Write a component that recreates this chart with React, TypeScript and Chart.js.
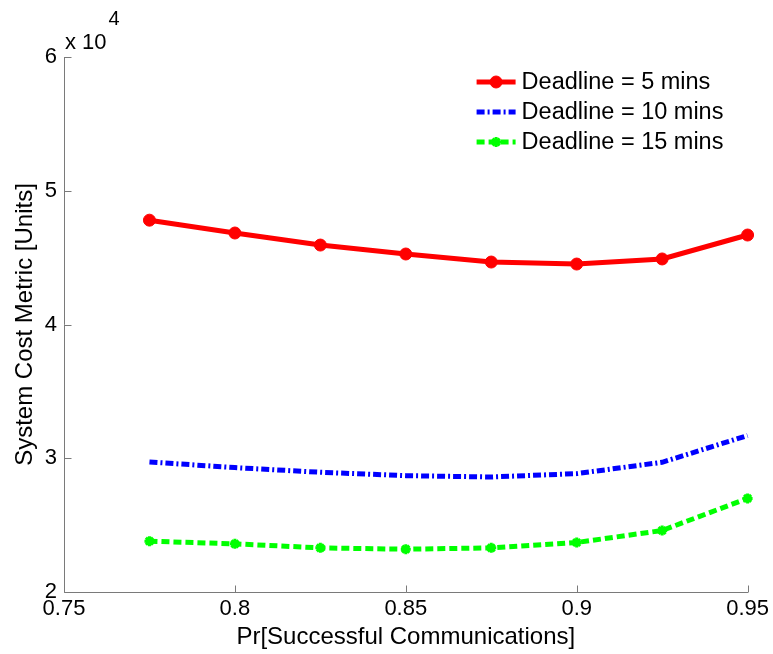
import React, { useEffect, useRef } from 'react';
import { Chart, registerables } from 'chart.js';
import { drawPoint } from 'chart.js/helpers';

Chart.register(...registerables);

const xValues = [0.775, 0.8, 0.825, 0.85, 0.875, 0.9, 0.925, 0.95];
const deadline5 = [47800, 46840, 45940, 45270, 44670, 44520, 44900, 46690];
const deadline10 = [29720, 29300, 28950, 28700, 28600, 28850, 29700, 31700];
const deadline15 = [23800, 23600, 23300, 23200, 23300, 23700, 24600, 27000];
const seriesLabels = ['Deadline = 5 mins', 'Deadline = 10 mins', 'Deadline = 15 mins'];
const xRange = [0.75, 0.95];
const xStep = 0.05;
const yRange = [20000, 60000];
const yStep = 10000;
const yExponentBase = 'x 10';
const yExponent = '4';
const xTitle = 'Pr[Successful Communications]';
const yTitle = 'System Cost Metric [Units]';

const FONT = '"Liberation Sans", Arial, Helvetica, sans-serif';

const toPoints = (ys: number[]) => xValues.map((x, i) => ({ x, y: ys[i] }));

const matlabAxes = {
  id: 'matlabAxes',
  afterDraw(chart: any) {
    const { ctx, chartArea } = chart;
    const xs = chart.scales.x;
    const ys = chart.scales.y;
    const tick = 7;
    ctx.save();
    ctx.strokeStyle = '#7a7a7a';
    ctx.lineWidth = 1;
    ctx.beginPath();
    const L = Math.round(chartArea.left) + 0.5;
    const B = Math.round(chartArea.bottom) + 0.5;
    ctx.moveTo(L, Math.round(chartArea.top));
    ctx.lineTo(L, B);
    ctx.lineTo(Math.round(chartArea.right), B);
    ys.ticks.forEach((t: any) => {
      const py = Math.round(ys.getPixelForValue(t.value)) + 0.5;
      ctx.moveTo(L, py);
      ctx.lineTo(L + tick, py);
    });
    xs.ticks.forEach((t: any) => {
      const px = Math.round(xs.getPixelForValue(t.value)) + 0.5;
      ctx.moveTo(px, B);
      ctx.lineTo(px, B - tick);
    });
    ctx.stroke();

    // exponent label
    ctx.fillStyle = '#000';
    ctx.font = `22px ${FONT}`;
    ctx.textBaseline = 'middle';
    ctx.textAlign = 'left';
    ctx.fillText(yExponentBase, chartArea.left + 1, chartArea.top - 14);
    const w = ctx.measureText(yExponentBase).width;
    ctx.font = `20px ${FONT}`;
    ctx.fillText(yExponent, chartArea.left + 3 + w, chartArea.top - 38);
    ctx.restore();
  },
};

const inlineLegend = {
  id: 'inlineLegend',
  afterDraw(chart: any) {
    const { ctx, chartArea } = chart;
    const lineLen = 39;
    const x0 = chartArea.right - 271;
    const y0 = chartArea.top + 25;
    const rowH = 30;
    ctx.save();
    chart.data.datasets.forEach((ds: any, i: number) => {
      const y = y0 + i * rowH;
      ctx.strokeStyle = ds.borderColor;
      ctx.lineWidth = ds.borderWidth;
      ctx.setLineDash(ds.borderDash || []);
      ctx.beginPath();
      ctx.moveTo(x0, y);
      ctx.lineTo(x0 + lineLen, y);
      ctx.stroke();
      ctx.setLineDash([]);
      if (ds.pointRadius > 0) {
        ctx.fillStyle = ds.pointBackgroundColor;
        ctx.strokeStyle = ds.pointBorderColor;
        ctx.lineWidth = ds.pointBorderWidth;
        drawPoint(ctx, { pointStyle: ds.pointStyle, radius: ds.pointRadius, borderWidth: ds.pointBorderWidth, rotation: 0 } as any, x0 + lineLen / 2, y);
      }
      ctx.fillStyle = '#000';
      ctx.font = `23.5px ${FONT}`;
      ctx.textBaseline = 'middle';
      ctx.textAlign = 'left';
      ctx.fillText(ds.label, x0 + lineLen + 6, y + 1);
    });
    ctx.restore();
  },
};

export default function App() {
  const ref = useRef<HTMLCanvasElement | null>(null);
  useEffect(() => {
    if (!ref.current) return;
    Chart.defaults.font.family = FONT;
    const chart = new Chart(ref.current, {
      type: 'line',
      data: {
        datasets: [
          {
            label: seriesLabels[0],
            data: toPoints(deadline5),
            borderColor: '#ff0000',
            backgroundColor: '#ff0000',
            borderWidth: 5,
            pointStyle: 'circle',
            pointRadius: 6,
            pointBackgroundColor: '#ff0000',
            pointBorderColor: '#ff0000',
            pointBorderWidth: 1,
            tension: 0,
            clip: false,
          } as any,
          {
            label: seriesLabels[1],
            data: toPoints(deadline10),
            borderColor: '#0000ff',
            backgroundColor: '#0000ff',
            borderWidth: 5,
            borderDash: [8, 3, 2, 3],
            pointRadius: 0,
            tension: 0,
            clip: false,
          } as any,
          {
            label: seriesLabels[2],
            data: toPoints(deadline15),
            borderColor: '#00ff00',
            backgroundColor: '#00ff00',
            borderWidth: 5,
            borderDash: [8, 4],
            pointStyle: 'star',
            pointRadius: 5,
            pointBackgroundColor: '#00ff00',
            pointBorderColor: '#00ff00',
            pointBorderWidth: 3,
            tension: 0,
            clip: false,
          } as any,
        ],
      },
      options: {
        responsive: false,
        animation: false,
        devicePixelRatio: 1,
        layout: { padding: { left: 0, top: 57, right: 25, bottom: 0 } },
        plugins: { legend: { display: false }, tooltip: { enabled: false } },
        scales: {
          x: {
            type: 'linear',
            min: xRange[0],
            max: xRange[1],
            grid: { display: false, drawTicks: false },
            border: { display: false },
            ticks: {
              stepSize: xStep,
              autoSkip: false,
              maxRotation: 0,
              padding: 4,
              color: '#000',
              font: { size: 22 },
              callback: (v: any) => String(+(+v).toFixed(2)),
            },
            title: { display: true, text: xTitle, color: '#000', font: { size: 24 }, padding: { top: 0, bottom: 2 } },
            afterFit: (s: any) => { s.height = 62; },
          },
          y: {
            type: 'linear',
            min: yRange[0],
            max: yRange[1],
            grid: { display: false, drawTicks: false },
            border: { display: false },
            ticks: {
              stepSize: yStep,
              padding: 7,
              color: '#000',
              font: { size: 22 },
              callback: (v: any) => String(+v / 10000),
            },
            title: { display: true, text: yTitle, color: '#000', font: { size: 24 }, padding: { top: 11, bottom: 0 } },
            afterFit: (s: any) => { s.width = 64; },
          },
        },
      },
      plugins: [matlabAxes, inlineLegend],
    });
    return () => chart.destroy();
  }, []);
  return (
    <div style={{ position: 'absolute', left: 0, top: 0, width: 773, height: 654, background: '#fff' }}>
      <canvas ref={ref} width={773} height={654} />
    </div>
  );
}
